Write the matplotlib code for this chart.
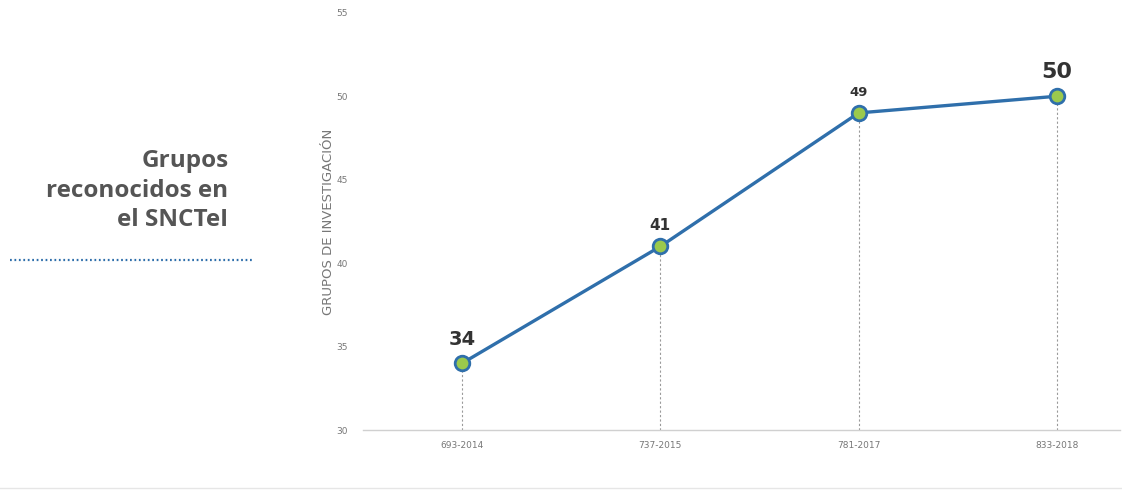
import matplotlib.pyplot as plt

categories = ["693-2014", "737-2015", "781-2017", "833-2018"]
grupos = [34, 41, 49, 50]
label_sizes = [14, 11, 9.5, 16]
yticks = [30, 35, 40, 45, 50, 55]

fig = plt.figure(figsize=(11.22, 4.92), dpi=100)
ax = fig.add_axes([0.3235, 0.126, 0.675, 0.848])

x = list(range(len(categories)))

# dashed drop lines from each point to the axis
for xi, yi in zip(x, grupos):
    ax.plot([xi, xi], [30, yi], color="#9a9a9a", lw=0.8, ls=(0, (2, 2)), zorder=1)

ax.plot(x, grupos, color="#2f6fab", lw=2.4, marker="o", markersize=10.5,
        markerfacecolor="#9bc94c", markeredgecolor="#2f6fab", markeredgewidth=2,
        zorder=3)

for xi, yi, fs in zip(x, grupos, label_sizes):
    ax.annotate(str(yi), (xi, yi), xytext=(0, 10), textcoords="offset points",
                ha="center", va="bottom", fontsize=fs, fontweight="bold",
                color="#333333", family="DejaVu Sans")

ax.set_xlim(-0.5, 3.32)
ax.set_ylim(30, 55)
ax.set_yticks(yticks)
ax.set_xticks(x)
ax.set_xticklabels(categories)
ax.tick_params(axis="both", length=0, labelsize=6.5, labelcolor="#777777")
ax.tick_params(axis="y", pad=11)
ax.tick_params(axis="x", pad=8)

for s in ["top", "right", "left"]:
    ax.spines[s].set_visible(False)
ax.spines["bottom"].set_color("#d0d0d0")
ax.spines["bottom"].set_linewidth(1)

ax.set_ylabel("GRUPOS DE INVESTIGACIÓN", fontsize=9.5, color="#777777", labelpad=1)

# side title
fig.text(0.2035, 0.612, "Grupos\nreconocidos en\nel SNCTeI", ha="right", va="center",
         fontsize=17.5, fontweight="bold", color="#555555",
         family=["Open Sans", "DejaVu Sans"], linespacing=1.3)
fig.add_artist(plt.Line2D([0.009, 0.225], [0.471, 0.471], color="#2f6fab",
                          lw=1.6, ls=(0, (0.8, 1.2))))

# bottom rule
fig.add_artist(plt.Line2D([0, 1], [0.008, 0.008], color="#e6e6e6", lw=1))

fig.savefig("out.png", dpi=100)
